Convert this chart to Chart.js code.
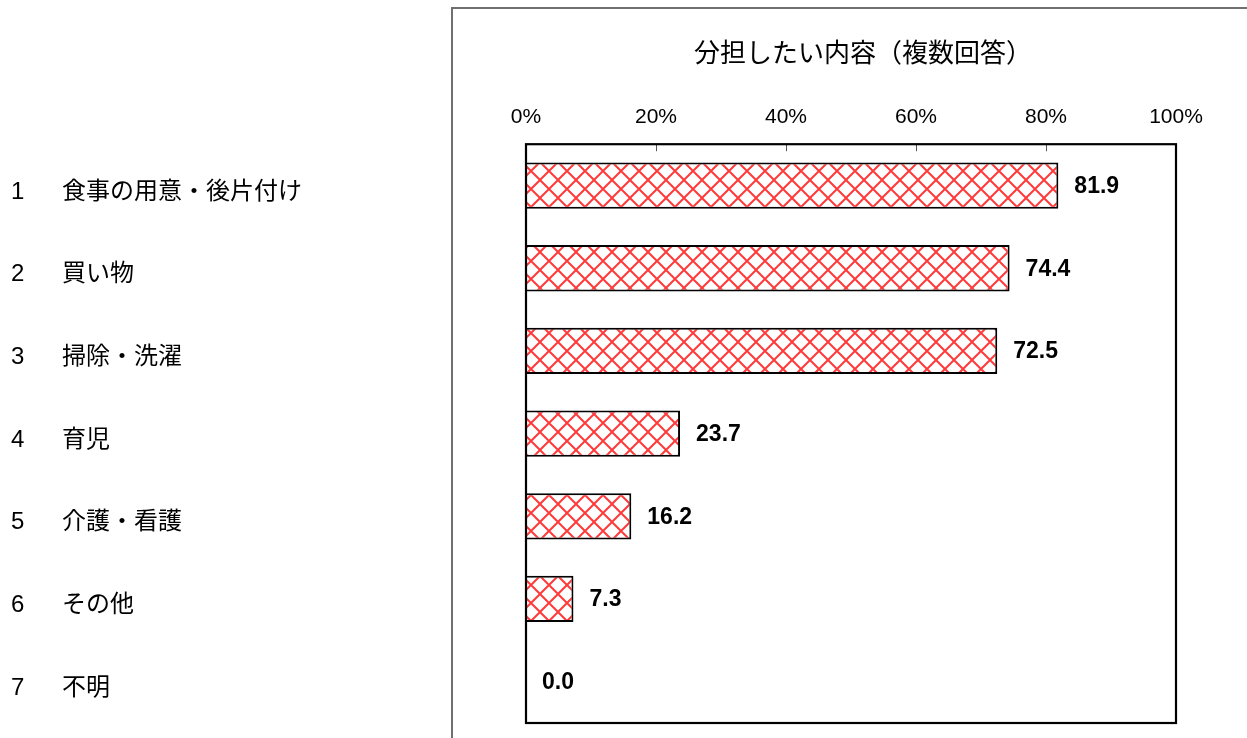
<!DOCTYPE html>
<html>
<head>
<meta charset="utf-8">
<script src="https://cdn.jsdelivr.net/npm/chart.js@4"></script>
<style>
  html, body { margin: 0; padding: 0; background: #ffffff; }
  canvas { display: block; }
</style>
</head>
<body>
<canvas id="c" width="1247" height="738"></canvas>
<script>
const chartTitle = '分担したい内容（複数回答）';
const categoryNumbers = ['1', '2', '3', '4', '5', '6', '7'];
const categories = ['食事の用意・後片付け', '買い物', '掃除・洗濯', '育児', '介護・看護', 'その他', '不明'];
const values = [81.9, 74.4, 72.5, 23.7, 16.2, 7.3, 0.0];
const axisMin = 0;
const axisMax = 100;
const axisStep = 20;

const JP = "'Noto Sans CJK JP', 'Liberation Sans', sans-serif";
const LAT = "'Liberation Sans', 'Noto Sans CJK JP', sans-serif";

function makeHatch() {
  const s = 18;
  const c = document.createElement('canvas');
  c.width = s; c.height = s;
  const g = c.getContext('2d');
  g.fillStyle = '#ffffff';
  g.fillRect(0, 0, s, s);
  g.strokeStyle = '#ff3a3a';
  g.lineWidth = 2;
  g.beginPath();
  g.moveTo(-2, -2); g.lineTo(s + 2, s + 2);
  g.moveTo(s + 2, -2); g.lineTo(-2, s + 2);
  g.stroke();
  return g.createPattern(c, 'repeat');
}

const framePlugin = {
  id: 'frame',
  beforeDraw(chart) {
    const ctx = chart.ctx;
    const a = chart.chartArea;
    ctx.save();
    ctx.fillStyle = '#ffffff';
    ctx.fillRect(0, 0, chart.width, chart.height);
    ctx.strokeStyle = '#707070';
    ctx.lineWidth = 2;
    ctx.beginPath();
    ctx.moveTo(452, chart.height);
    ctx.lineTo(452, 8);
    ctx.lineTo(chart.width, 8);
    ctx.stroke();
    // title
    ctx.fillStyle = '#000000';
    ctx.font = '26px ' + JP;
    ctx.textAlign = 'center';
    ctx.textBaseline = 'middle';
    ctx.fillText(chartTitle, (a.left + a.right) / 2 + 12, 52);
    ctx.restore();
  },
  afterDatasetsDraw(chart) {
    const ctx = chart.ctx;
    const a = chart.chartArea;
    const xs = chart.scales.x;
    ctx.save();
    // inner tick marks
    ctx.strokeStyle = '#555555';
    ctx.lineWidth = 1;
    xs.ticks.forEach(t => {
      if (t.value > axisMin && t.value < axisMax) {
        const px = Math.round(xs.getPixelForValue(t.value)) + 0.5;
        ctx.beginPath();
        ctx.moveTo(px, a.top);
        ctx.lineTo(px, a.top + 7);
        ctx.stroke();
      }
    });
    // plot border
    ctx.strokeStyle = '#000000';
    ctx.lineWidth = 2.2;
    ctx.strokeRect(a.left, a.top, a.right - a.left, a.bottom - a.top);
    // value labels
    const meta = chart.getDatasetMeta(0);
    ctx.fillStyle = '#000000';
    ctx.font = 'bold 23px ' + LAT;
    ctx.textAlign = 'left';
    ctx.textBaseline = 'middle';
    meta.data.forEach((bar, i) => {
      ctx.fillText(values[i].toFixed(1), bar.x + 16, bar.y + 1);
    });
    // category labels (left column)
    const ys = chart.scales.y;
    ctx.textBaseline = 'alphabetic';
    categories.forEach((name, i) => {
      const py = ys.getPixelForValue(i) + 13;
      ctx.font = '24px ' + LAT;
      ctx.fillText(categoryNumbers[i], 11, py);
      ctx.font = '24px ' + JP;
      ctx.fillText(name, 62, py);
    });
    ctx.restore();
  }
};

new Chart(document.getElementById('c'), {
  type: 'bar',
  data: {
    labels: categories,
    datasets: [{
      data: values,
      backgroundColor: makeHatch(),
      borderColor: '#000000',
      borderWidth: 2,
      borderSkipped: 'start',
      categoryPercentage: 1.0,
      barPercentage: 0.56
    }]
  },
  options: {
    indexAxis: 'y',
    responsive: false,
    devicePixelRatio: 1,
    animation: false,
    layout: { padding: { left: 526, right: 71, top: 91, bottom: 15 } },
    plugins: {
      legend: { display: false },
      tooltip: { enabled: false },
      title: { display: false }
    },
    scales: {
      x: {
        position: 'top',
        min: axisMin,
        max: axisMax,
        grid: { display: false, drawTicks: false },
        border: { display: false },
        ticks: {
          stepSize: axisStep,
          color: '#000000',
          padding: 14,
          font: { family: LAT, size: 21 },
          callback: v => v + '%'
        }
      },
      y: {
        display: false,
        grid: { display: false }
      }
    }
  },
  plugins: [framePlugin]
});
</script>
</body>
</html>
